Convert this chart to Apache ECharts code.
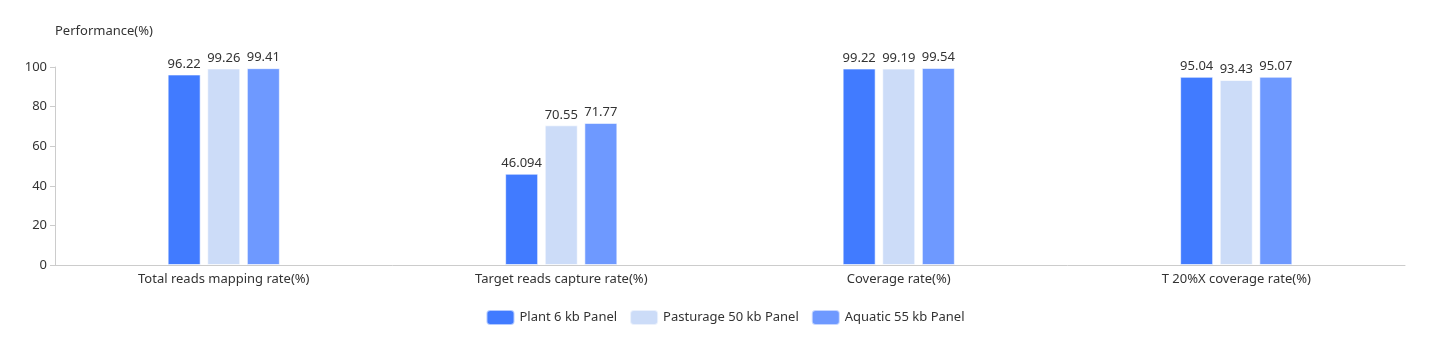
<!DOCTYPE html>
<html>
<head>
<meta charset="utf-8">
<script src="https://cdn.jsdelivr.net/npm/echarts@6/dist/echarts.min.js"></script>
<style>html,body{margin:0;padding:0;background:#fff}#c{width:1450px;height:358px}</style>
</head>
<body>
<div id="c"></div>
<script>
const categories = ['Total reads mapping rate(%)', 'Target reads capture rate(%)', 'Coverage rate(%)', 'T 20%X coverage rate(%)'];
const seriesNames = ['Plant 6 kb Panel', 'Pasturage 50 kb Panel', 'Aquatic 55 kb Panel'];
const plantValues = [96.22, 46.094, 99.22, 95.04];
const pasturageValues = [99.26, 70.55, 99.19, 93.43];
const aquaticValues = [99.41, 71.77, 99.54, 95.07];
const colors = ['#417BFF', '#CCDCF8', '#6E99FF'];

const chart = echarts.init(document.getElementById('c'));
const font = '"Noto Sans", sans-serif';
function mk(name, data, color) {
  return {
    name: name, type: 'bar', data: data, barWidth: 33, barGap: '20%',
    itemStyle: { color: color, borderColor: 'rgba(255,255,255,0.6)', borderWidth: 1 },
    label: { show: true, position: 'top', color: '#333', fontSize: 13, fontFamily: font, distance: 4 }
  };
}
chart.setOption({
  animation: false,
  textStyle: { fontFamily: font },
  legend: {
    bottom: 27, left: 'center', itemWidth: 28, itemHeight: 15, itemGap: 12,
    textStyle: { color: '#333', fontSize: 13, fontFamily: font },
    data: seriesNames
  },
  grid: { left: 55, right: 45, top: 67, bottom: 93 },
  xAxis: {
    type: 'category', data: categories,
    axisTick: { show: false },
    axisLine: { lineStyle: { color: '#ccc' } },
    axisLabel: { color: '#333', fontSize: 13, margin: 8, fontFamily: font }
  },
  yAxis: {
    type: 'value', min: 0, max: 100, interval: 20,
    name: 'Performance(%)', nameLocation: 'end', nameGap: 29,
    nameTextStyle: { color: '#333', fontSize: 13, align: 'left', padding: [0, 0, 0, 0], fontFamily: font },
    axisLine: { show: true, lineStyle: { color: '#ccc' } },
    axisTick: { show: true, length: 5, lineStyle: { color: '#ccc' } },
    splitLine: { show: false },
    axisLabel: { color: '#333', fontSize: 13, margin: 8, fontFamily: font }
  },
  series: [
    mk(seriesNames[0], plantValues, colors[0]),
    mk(seriesNames[1], pasturageValues, colors[1]),
    mk(seriesNames[2], aquaticValues, colors[2])
  ]
});
</script>
</body>
</html>
